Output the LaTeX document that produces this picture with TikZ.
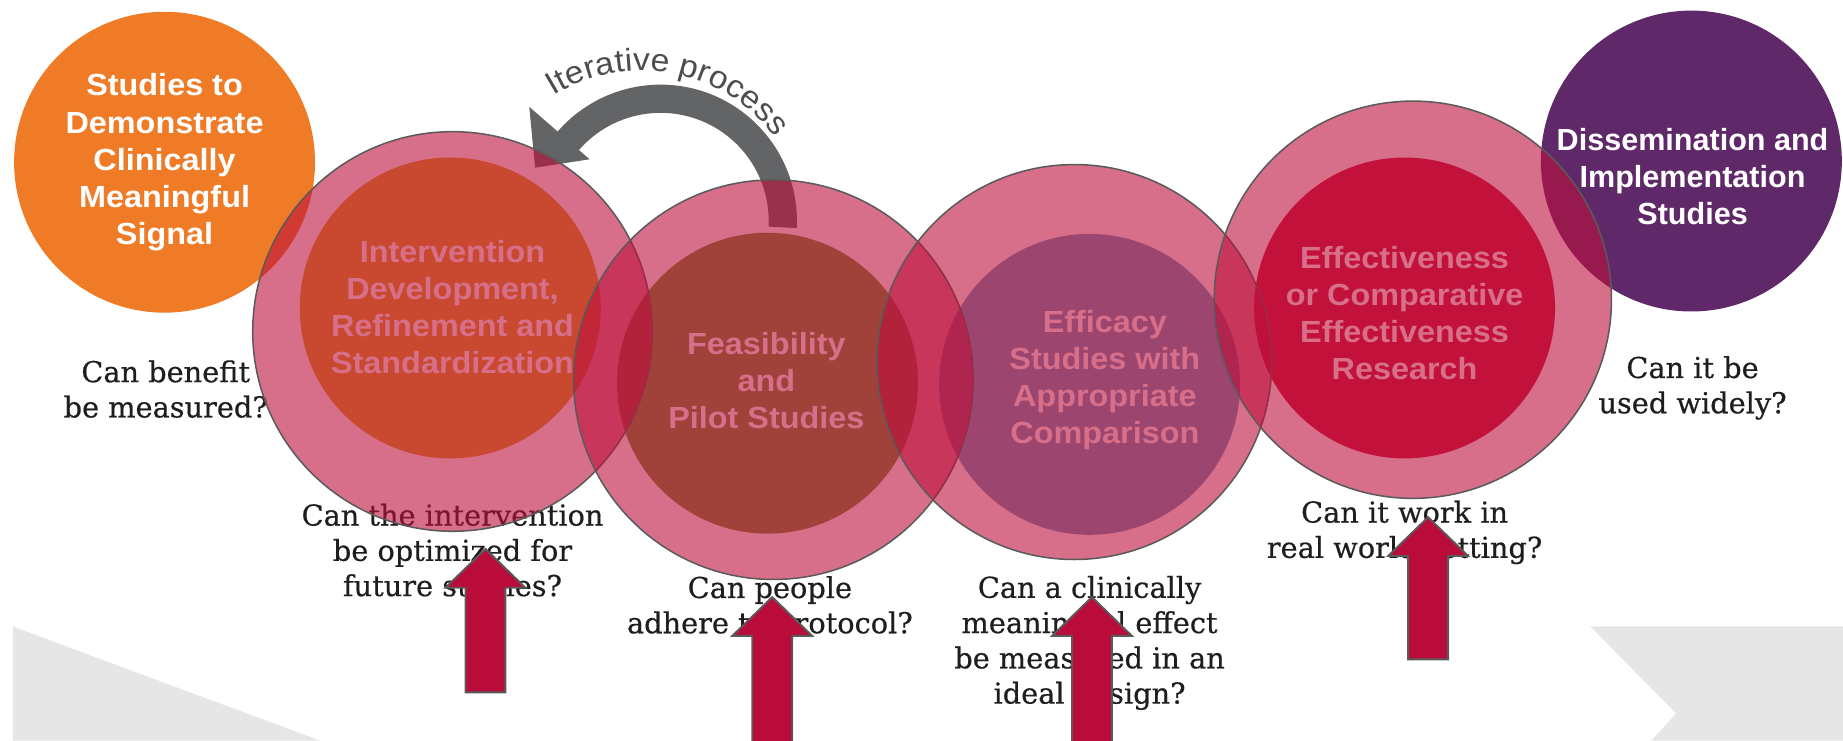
\documentclass[tikz,border=0pt]{standalone}
\usepackage{fontspec}
\setmainfont{DejaVu Serif}[FakeBold=0.5]
\newfontfamily\sansb{Liberation Sans}
\newfontfamily\sansw{Liberation Sans}[FakeStretch=1.06]
\usetikzlibrary{calc,decorations.text}
\definecolor{orangec}{HTML}{EF7B27}
\definecolor{purplec}{HTML}{5F2868}
\definecolor{ovl}{RGB}{190,15,60}
\definecolor{inA}{RGB}{215,162,30}
\definecolor{inB}{RGB}{115,142,55}
\definecolor{inC}{RGB}{107,152,185}
\definecolor{inD}{RGB}{202,22,55}
\definecolor{arrred}{HTML}{BA0C3A}
\definecolor{edgegray}{HTML}{5A5A5A}
\definecolor{itergray}{HTML}{636466}
\definecolor{itertext}{HTML}{4D4D4D}
\definecolor{bggray}{HTML}{E6E6E6}
\definecolor{qcol}{HTML}{1E1E1E}
\tikzset{
  qtext/.style={align=center, inner sep=0pt, text=qcol, font=\fontsize{24.5}{30}\selectfont},
  btext/.style={align=center, inner sep=0pt, text=white, font=\sansw\bfseries\fontsize{26}{31.5}\selectfont},
  ptext/.style={align=center, inner sep=0pt, text=white, font=\sansb\bfseries\fontsize{26}{31.5}\selectfont},
  ovcircle/.style={circle, inner sep=0pt, fill=ovl, fill opacity=0.6, draw=edgegray, draw opacity=1, line width=1.3pt},
  solidcircle/.style={circle, inner sep=0pt, minimum size=256pt, draw=none},
  uparrow/.style={fill=arrred, draw=edgegray, line width=1.6pt, line join=miter},
  uparr/.pic={\path[uparrow] (0,0) -- (34,-33) -- (17,-33) -- (17,-#1) -- (-17,-#1) -- (-17,-33) -- (-34,-33) -- cycle;}
}
\begin{document}
\begin{tikzpicture}[x=1pt,y=1pt]
\useasboundingbox (0,0) rectangle (1568,-630);
\begin{scope}
\clip (0,0) rectangle (1568,-630);
% background band pieces
\fill[bggray] (11,-533) -- (272,-630) -- (11,-630) -- cycle;
\fill[bggray] (1353,-533) -- (1568,-533) -- (1568,-630) -- (1405,-630) -- (1426,-607) -- cycle;

% outer solid circles
\node[solidcircle, fill=orangec] (sig) at (140,-138) {};
\node[solidcircle, fill=purplec] (dis) at (1439,-137) {};
\node[btext] (sigt) at (140,-138) {Studies to\\Demonstrate\\Clinically\\Meaningful\\Signal};

% inner circles
\node[solidcircle, fill=inA] (i1) at (383,-262) {};
\node[solidcircle, fill=inB] (i2) at (653,-326) {};
\node[solidcircle, fill=inC] (i3) at (927,-327) {};
\node[solidcircle, fill=inD] (i4) at (1195,-262) {};
\node[btext] (i1t) at (385,-261) {Intervention\\Development,\\Refinement and\\Standardization};
\node[btext] (i2t) at (652,-324) {Feasibility\\and\\Pilot Studies};
\node[btext] (i3t) at (940,-323) {Efficacy\\Studies with\\Appropriate\\Comparison};
\node[btext] (i4t) at (1195,-266) {Effectiveness\\or Comparative\\Effectiveness\\Research};

% questions
\node[qtext] (q0) at (141,-331) {Can benefit\\be measured?};
\node[qtext] (q1) at (385,-468) {Can the intervention\\be optimized for\\future studies?};
\node[qtext] (q2) at (655,-517) {Can people\\adhere to protocol?};
\node[qtext] (q3) at (927,-547) {Can a clinically\\meaningful effect\\be measured in an\\ideal design?};
\node[qtext] (q4) at (1195,-453) {Can it work in\\real world setting?};
\node[qtext] (q5) at (1440,-330) {Can it be\\used widely?};

% iterative process arrow
\coordinate (c) at (562,-188);
\fill[itergray] ($(c)+(-3:116)$) arc[start angle=-3,end angle=139,radius=116]
  -- ($(c)+(139:148)$) -- ($(c)+(157:116)$) -- ($(c)+(139:80)$)
  -- ($(c)+(139:92)$) arc[start angle=139,end angle=-3,radius=92] -- cycle;
\coordinate (tc) at (546,-202);
\path[decorate, decoration={text along path, text align=fit to path, text color=itertext,
  text={|\sansw\fontsize{27}{27}\selectfont|Iterative process}}]
  ($(tc)+(122:142)$) arc[start angle=122,end angle=37,radius=142];

% translucent overlay circles
\node[ovcircle, minimum size=340pt] (b1) at (385,-282) {};
\node[ovcircle, minimum size=340pt] (b2) at (658,-323) {};
\node[ovcircle, minimum size=336pt] (b3) at (914,-308) {};
\node[ovcircle, minimum size=338pt] (b4) at (1202,-255) {};

\node[ptext] (dist) at (1440,-150) {Dissemination and\\Implementation\\Studies};

% red up arrows
\pic at (413,-467) {uparr=122};
\pic at (657,-508) {uparr=135};
\pic at (929,-508) {uparr=135};
\pic at (1215,-440) {uparr=121};
\end{scope}
\end{tikzpicture}
\end{document}
